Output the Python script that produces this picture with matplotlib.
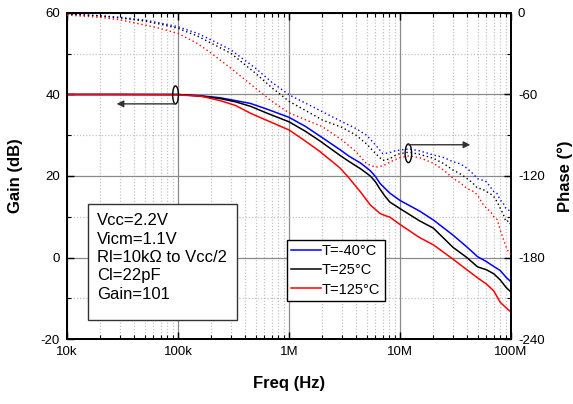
import numpy as np
import matplotlib
matplotlib.use("Agg")
import matplotlib.pyplot as plt
from matplotlib.patches import Ellipse, Rectangle
from matplotlib.ticker import FixedLocator, NullFormatter, MultipleLocator, LogLocator

plt.rcParams['font.family'] = ['Liberation Sans', 'DejaVu Sans']
plt.rcParams['axes.unicode_minus'] = False

# ---------------- data ----------------
gain_freq = [1e4, 3e4, 1e5, 1.6e5, 2.4e5, 3.3e5, 4.5e5, 6.5e5, 1e6, 1.4e6,
             1.9e6, 2.9e6, 3.5e6, 4.4e6, 5.4e6, 6.0e6, 6.6e6, 7.3e6, 8.1e6, 1e7,
             1.5e7, 2e7, 3e7, 4e7, 5e7, 6e7, 7e7, 8e7, 9e7, 1e8]
gain_m40 = [40.0, 40.0, 40.0, 39.7, 39.2, 38.5, 37.8, 36.3, 34.4, 32.2,
            29.8, 26.4, 24.8, 23.2, 21.3, 19.9, 18.2, 17.0, 15.8, 14.0,
            11.4, 9.2, 5.5, 2.6, 0.2, -1.0, -2.2, -3.2, -4.8, -6.0]
gain_25 = [40.0, 40.0, 40.0, 39.6, 39.0, 38.2, 37.1, 35.3, 33.3, 31.0,
           28.6, 25.0, 23.5, 21.8, 20.0, 18.6, 16.8, 15.1, 13.6, 12.0,
           9.0, 7.2, 2.5, 0.0, -2.3, -3.0, -4.0, -5.5, -7.3, -8.5]
gain_125 = [40.0, 40.0, 39.9, 39.6, 38.5, 37.3, 35.4, 33.5, 31.3, 28.6,
            26.0, 21.9, 19.4, 16.1, 12.9, 11.8, 10.8, 10.3, 9.9, 8.1,
            4.9, 3.1, -0.4, -3.0, -5.0, -6.5, -8.2, -11.0, -12.3, -13.4]

phase_freq = [1e4, 2e4, 3e4, 5e4, 7e4, 1e5, 1.5e5, 2e5, 3e5, 5e5, 7e5, 1e6, 1.5e6, 2e6, 3e6, 4e6,
              5e6, 6e6, 7e6, 8e6, 9e6, 1e7, 1.2e7, 1.5e7, 2e7, 2.5e7, 3e7, 3.5e7, 4e7, 4.5e7,
              5e7, 5.5e7, 6e7, 6.5e7, 7e7, 7.5e7, 8e7, 8.5e7, 9e7, 9.5e7, 1e8]
phase_m40 = [-0.7, -2.0, -3.2, -5.2, -7.5, -10.1, -15.0, -19.9, -27.2, -40.7, -51.0, -60.2, -67.5,
             -72.7, -80.0, -85.0, -90.0, -97.0, -103.5, -103.0, -101.5, -100.9, -100.1, -101.5,
             -104.5, -106.5, -109.5, -111.0, -114.3, -118.0, -122.0, -123.0, -124.2, -128.0,
             -131.5, -133.0, -137.7, -140.0, -143.8, -145.0, -147.0]
phase_25 = [-0.7, -2.2, -3.6, -5.9, -8.3, -11.3, -17.0, -22.3, -29.7, -44.4, -55.0, -65.0, -73.0,
            -78.8, -84.2, -89.8, -96.4, -103.3, -108.5, -107.5, -105.0, -103.5, -102.5, -104.0,
            -107.0, -111.0, -115.6, -118.5, -121.7, -125.0, -129.0, -129.5, -131.5, -133.0,
            -135.2, -139.0, -143.8, -148.0, -153.6, -153.0, -156.0]
phase_125 = [-1.5, -3.2, -5.0, -8.8, -11.5, -15.0, -22.5, -29.7, -40.7, -55.4, -65.0, -73.5, -79.5,
             -83.7, -93.5, -102.0, -111.0, -113.5, -112.6, -110.0, -108.0, -106.5, -105.2, -106.5,
             -110.6, -116.0, -121.7, -125.0, -129.1, -131.0, -134.0, -140.0, -143.8, -146.0,
             -149.9, -152.0, -159.8, -166.0, -172.0, -176.0, -178.0]

series_labels = ['T=-40°C', 'T=25°C', 'T=125°C']
series_colors = ['#0000ff', '#000000', '#ff0000']

x_ticks = [1e4, 1e5, 1e6, 1e7, 1e8]
x_ticklabels = ['10k', '100k', '1M', '10M', '100M']
gain_ticks = [-20, 0, 20, 40, 60]
phase_ticks = [-240, -180, -120, -60, 0]

info_lines = ['Vcc=2.2V', 'Vicm=1.1V', 'Rl=10kΩ to Vcc/2', 'Cl=22pF', 'Gain=101']

# ---------------- figure ----------------
fig = plt.figure(figsize=(5.73, 4.04), dpi=100)
ax = fig.add_axes([67/573, 1-339/404, 444/573, 326/404])
ax.set_xscale('log')
ax.set_xlim(1e4, 1e8)
ax.set_ylim(-20, 60)

ax2 = ax.twinx()
ax2.set_ylim(-240, 0)

ax.xaxis.set_major_locator(FixedLocator(x_ticks))
ax.xaxis.set_minor_locator(LogLocator(base=10, subs=np.arange(2, 10)))
ax.xaxis.set_minor_formatter(NullFormatter())
ax.set_xticklabels(x_ticklabels)
ax.yaxis.set_major_locator(FixedLocator(gain_ticks))
ax.yaxis.set_minor_locator(MultipleLocator(10))
ax2.yaxis.set_major_locator(FixedLocator(phase_ticks))
ax2.yaxis.set_minor_locator(MultipleLocator(30))

ax.grid(which='major', color='#8a8a8a', lw=0.9, ls='-', zorder=0)
ax.grid(which='minor', color='#c4c4c4', lw=0.9, ls=(0, (1, 1.5)), zorder=0)
ax.set_axisbelow(True)

handles = []
for g, c, lab in zip([gain_m40, gain_25, gain_125], series_colors, series_labels):
    h, = ax.plot(gain_freq, g, color=c, lw=1.1, label=lab, zorder=3)
    handles.append(h)

for p, c in zip([phase_m40, phase_25, phase_125], series_colors):
    ax2.plot(phase_freq, p, color=c, lw=1.0, ls=(0, (1, 2)), zorder=3)

for a in (ax, ax2):
    for s in a.spines.values():
        s.set_linewidth(1.3)
        s.set_color('black')
ax.tick_params(which='both', direction='in', top=True, right=False, labelsize=9.5)
ax.tick_params(which='major', length=5, width=1.0)
ax.tick_params(which='minor', length=3, width=0.8)
ax.tick_params(axis='x', pad=5)
ax.tick_params(axis='y', pad=5)
ax2.tick_params(which='both', direction='in', labelsize=9.5, pad=5)
ax2.tick_params(which='major', length=5, width=1.0)
ax2.tick_params(which='minor', length=3, width=0.8)

ax.set_xlabel('Freq (Hz)', fontsize=12, fontweight='bold')
ax.xaxis.set_label_coords(0.5, -0.115)
ax.set_ylabel('Gain (dB)', fontsize=12, fontweight='bold')
ax.yaxis.set_label_coords(-0.098, 0.5)
ax2.set_ylabel('Phase (°)', fontsize=12, fontweight='bold')
ax2.yaxis.set_label_coords(1.104, 0.5)

leg = ax.legend(handles=handles, loc='upper left', bbox_to_anchor=(0.4955, 0.3037),
                borderaxespad=0, fontsize=10.5, frameon=True, fancybox=False,
                edgecolor='black', framealpha=1, handlelength=2.0, handletextpad=0.1,
                borderpad=0.3, labelspacing=0.35)
leg.get_frame().set_linewidth(1.0)

ax.add_patch(Rectangle((0.0473, 0.0583), 0.3356, 0.3558, transform=ax.transAxes,
                       facecolor='white', edgecolor='#333333', lw=1.0, zorder=4))
for i, line in enumerate(info_lines):
    ax.text(0.068, 0.362 - i * 0.0562, line, transform=ax.transAxes, fontsize=12,
            va='center', ha='left', zorder=5)

fig.canvas.draw()
def to_axes(a, x, y):
    return a.transAxes.inverted().transform(a.transData.transform((x, y)))

c1 = to_axes(ax, 9.5e4, 39.9)
ax.add_patch(Ellipse(c1, 5.7/444, 18/326, transform=ax.transAxes, fill=False,
                     edgecolor='black', lw=1.0, zorder=5))
ax.annotate('', xy=(2.8e4, 37.7), xytext=(9.5e4, 37.7),
            arrowprops=dict(arrowstyle='-|>', color='#333333', lw=1.0,
                            mutation_scale=10, shrinkA=0, shrinkB=0), zorder=5)

c2 = to_axes(ax2, 1.19e7, -103.3)
ax2.add_patch(Ellipse(c2, 6.5/444, 18.7/326, transform=ax2.transAxes, fill=False,
                      edgecolor='black', lw=1.0, zorder=5))
ax2.annotate('', xy=(4.3e7, -97.0), xytext=(1.19e7, -97.0),
             arrowprops=dict(arrowstyle='-|>', color='#333333', lw=1.0,
                             mutation_scale=10, shrinkA=0, shrinkB=0), zorder=5)

fig.savefig('out.png', dpi=100)
